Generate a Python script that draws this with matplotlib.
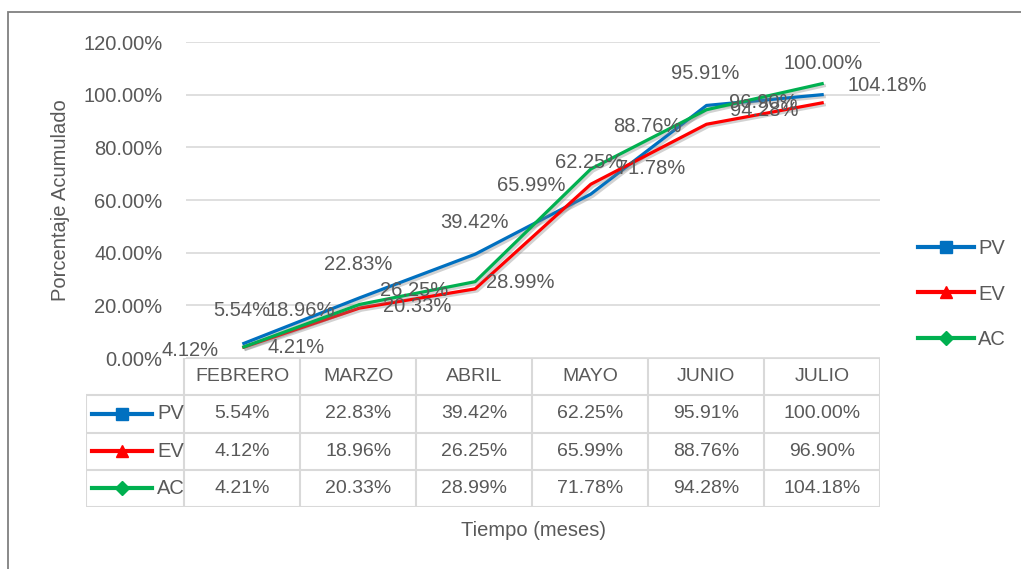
import matplotlib.pyplot as plt
import matplotlib.patheffects as pe
from matplotlib.lines import Line2D
from matplotlib.patches import Rectangle

plt.rcParams['font.family'] = ['Liberation Sans', 'DejaVu Sans']

meses = ['FEBRERO', 'MARZO', 'ABRIL', 'MAYO', 'JUNIO', 'JULIO']
nombres = ['PV', 'EV', 'AC']
pv = [5.54, 22.83, 39.42, 62.25, 95.91, 100.00]
ev = [4.12, 18.96, 26.25, 65.99, 88.76, 96.90]
ac = [4.21, 20.33, 28.99, 71.78, 94.28, 104.18]
y_ticks = [0, 20, 40, 60, 80, 100, 120]

colores = ['#0070C0', '#FF0000', '#00B050']
marcas = ['s', '^', 'D']
tam = [9, 8, 7]
gris = '#595959'
borde = '#D9D9D9'

# where Excel dropped each data label, in pixels from its point
off_pv = [(-2, 33), (-1, 33), (-1, 32), (-2, 32), (-1, 32), (1, 31)]
off_ev = [(-54, -3), (-59, -2), (-61, -2), (-60, -1), (-59, -2), (-59, 0)]
off_ac = [(52, -1), (58, -2), (45, -1), (60, 0), (58, -1), (65, -2)]

W, H = 1021, 569
fig = plt.figure(figsize=(W / 100, H / 100), dpi=100)

# plot area
ax = fig.add_axes([186 / W, 1 - 358 / H, (880 - 186) / W, (358 - 42) / H])
x = list(range(len(meses)))
sombra = [pe.SimpleLineShadow(offset=(1.5, -1.5), shadow_color='gray', alpha=0.35), pe.Normal()]
for vals, c, offs in zip([pv, ev, ac], colores, [off_pv, off_ev, off_ac]):
    ax.plot(x, vals, color=c, lw=2.3, path_effects=sombra, zorder=3)
    for xi, v, (dx, dy) in zip(x, vals, offs):
        ax.annotate(f'{v:.2f}%', (xi, v), xytext=(dx, dy), textcoords='offset pixels',
                    ha='center', va='center', fontsize=14.5, color=gris, zorder=4)

ax.set_xlim(-0.5, 5.5)
ax.set_ylim(0, 120)
ax.set_yticks(y_ticks)
ax.set_yticklabels([f'{t:.2f}%' for t in y_ticks])
ax.set_xticks([])
ax.tick_params(axis='y', length=0, pad=17, labelsize=14.5, labelcolor=gris)
ax.grid(axis='y', color=borde, lw=1.2)
ax.set_axisbelow(True)
for s in ax.spines.values():
    s.set_visible(False)

# data table under the plot
tb = fig.add_axes([86 / W, 1 - 507 / H, (880 - 86) / W, (507 - 358) / H])
colw = (880 - 186) / 6
left = -0.5 - 98 / colw
tb.set_xlim(left, 5.5)
tb.set_ylim(3.5, -0.5)
tb.axis('off')
tb.hlines(-0.5, -0.5, 5.5, color=borde, lw=1.5)
tb.hlines([0.5, 1.5, 2.5, 3.5], left, 5.5, color=borde, lw=1.5)
tb.vlines([k - 0.5 for k in range(7)], -0.5, 3.5, color=borde, lw=1.5)
tb.vlines(left, 0.5, 3.5, color=borde, lw=1.5)
for i, m in enumerate(meses):
    tb.text(i, 0, m, ha='center', va='center', fontsize=14, color=gris)
for r, (vals, nom, c, mk, ms) in enumerate(zip([pv, ev, ac], nombres, colores, marcas, tam)):
    row = r + 1
    for i, v in enumerate(vals):
        tb.text(i, row, f'{v:.2f}%', ha='center', va='center', fontsize=14, color=gris)
    x0 = left + 6 / colw
    x1 = left + 66 / colw
    tb.plot([x0, x1], [row, row], color=c, lw=3)
    tb.plot([(x0 + x1) / 2], [row], marker=mk, color=c, ms=ms)
    tb.text(left + 71 / colw, row, nom, ha='left', va='center', fontsize=14.5, color=gris)

# legend on the right
handles = [Line2D([], [], color=c, lw=3, marker=mk, ms=ms)
           for c, mk, ms in zip(colores, marcas, tam)]
fig.legend(handles, nombres, loc='center left', bbox_to_anchor=(918 / W, 1 - 294 / H),
           frameon=False, fontsize=14.5, labelcolor=gris, handlelength=2.8,
           handletextpad=0.2, labelspacing=1.3, borderpad=0, borderaxespad=0)

fig.text(60 / W, 1 - 200 / H, 'Porcentaje Acumulado', rotation=90, ha='center', va='center',
         fontsize=14.5, color=gris)
fig.text(533 / W, 1 - 530 / H, 'Tiempo (meses)', ha='center', va='center',
         fontsize=14.5, color=gris)

fig.patches.append(Rectangle((8 / W, -0.1), 1.2, 1 - 12 / H + 0.1, transform=fig.transFigure,
                             fill=False, ec='#808080', lw=1.3))

fig.savefig('out.png', dpi=100)
